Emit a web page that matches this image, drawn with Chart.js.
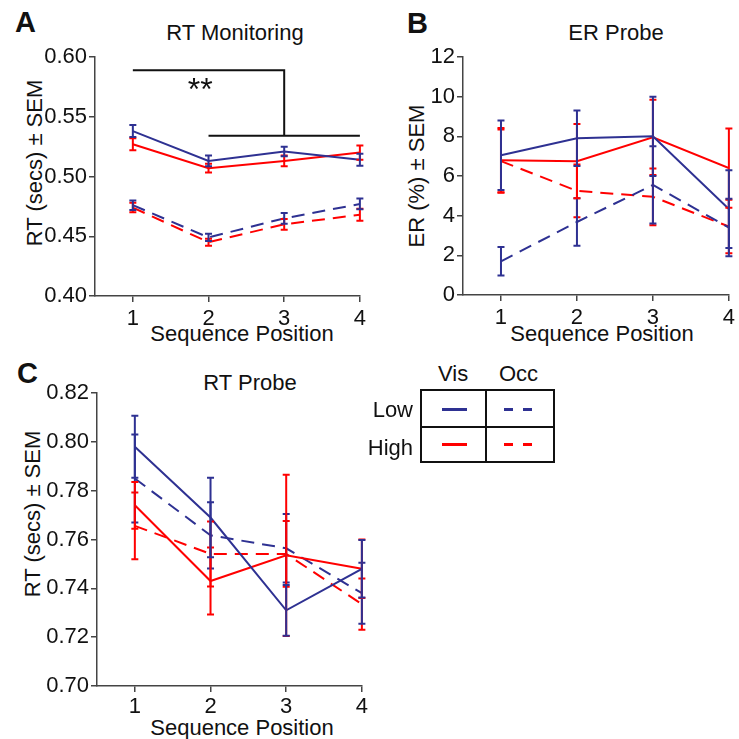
<!DOCTYPE html>
<html lang="en">
<head>
<meta charset="UTF-8">
<title>RT Monitoring, ER Probe, RT Probe</title>
<script src="https://cdn.jsdelivr.net/npm/chart.js"></script>
<style>
  body { margin: 0; width: 739px; height: 739px; position: relative; overflow: hidden;
         background: #fff; color: #111; font-family: Arial, "Liberation Sans", sans-serif; }
  canvas { position: absolute; }
  .txt { position: absolute; font-size: 22px; line-height: 22px; white-space: nowrap; }
  .ctr { width: 400px; text-align: center; }
  .letter { position: absolute; font-size: 29px; line-height: 29px; font-weight: bold; }
  .ylab { position: absolute; width: 300px; height: 26px; line-height: 26px; font-size: 22px;
          text-align: center; white-space: nowrap; transform: rotate(-90deg); }
  .box { position: absolute; background: #111; }
  .blue { position: absolute; background: #2e3192; height: 3px; }
  .red { position: absolute; background: #ff0000; height: 3px; }
</style>
</head>
<body>
  <!-- panel letters and titles -->
  <div class="letter" style="left:15px; top:8px;">A</div>
  <div class="letter" style="left:407px; top:9px;">B</div>
  <div class="letter" style="left:17px; top:359px;">C</div>

  <div class="txt ctr" style="left:35px; top:22px;">RT Monitoring</div>
  <div class="txt ctr" style="left:416px; top:22px;">ER Probe</div>
  <div class="txt ctr" style="left:50px; top:372px;">RT Probe</div>

  <div class="txt ctr" style="left:42px; top:323px;">Sequence Position</div>
  <div class="txt ctr" style="left:402px; top:323px;">Sequence Position</div>
  <div class="txt ctr" style="left:42px; top:717px;">Sequence Position</div>

  <div class="ylab" style="left:-115px; top:150px;">RT (secs) ± SEM</div>
  <div class="ylab" style="left:267px; top:163px;">ER (%) ± SEM</div>
  <div class="ylab" style="left:-117px; top:501px;">RT (secs) ± SEM</div>

  <canvas id="chartA" width="370" height="350" style="left:0; top:0;"></canvas>
  <canvas id="chartB" width="369" height="350" style="left:370px; top:0;"></canvas>
  <canvas id="chartC" width="370" height="399" style="left:0; top:340px;"></canvas>

  <!-- legend table -->
  <div class="txt" style="left:438px; top:363px;">Vis</div>
  <div class="txt" style="left:499px; top:363px;">Occ</div>
  <div class="txt" style="left:313px; top:399px; width:100px; text-align:right;">Low</div>
  <div class="txt" style="left:313px; top:437px; width:100px; text-align:right;">High</div>
  <div style="position:absolute; left:420px; top:389px; width:135px; height:74px; border:2px solid #111; box-sizing:border-box;"></div>
  <div class="box" style="left:485px; top:389px; width:2px; height:74px;"></div>
  <div class="box" style="left:420px; top:426px; width:135px; height:2px;"></div>
  <div class="blue" style="left:442px; top:408px; width:25px;"></div>
  <div class="blue" style="left:504px; top:408px; width:9px;"></div>
  <div class="blue" style="left:523px; top:408px; width:9px;"></div>
  <div class="red" style="left:442px; top:443px; width:25px;"></div>
  <div class="red" style="left:504px; top:443px; width:9px;"></div>
  <div class="red" style="left:523px; top:443px; width:9px;"></div>

<script>
// sequence positions (x axis)
const positions = [1, 2, 3, 4];

// A: RT Monitoring (secs)
const monVisLow = [0.538, 0.513, 0.521, 0.514];
const monVisLowErr = [0.005, 0.0045, 0.004, 0.005];
const monVisHigh = [0.527, 0.507, 0.513, 0.520];
const monVisHighErr = [0.005, 0.0036, 0.0045, 0.006];
const monOccLow = [0.476, 0.449, 0.465, 0.477];
const monOccLowErr = [0.004, 0.003, 0.0045, 0.0045];
const monOccHigh = [0.474, 0.445, 0.460, 0.468];
const monOccHighErr = [0.004, 0.003, 0.0045, 0.005];
const monTicks = [0.40, 0.45, 0.50, 0.55, 0.60];

// significance bracket in A
const bracketUpperX = [1, 3, 3];
const bracketUpperY = [0.589, 0.589, 0.534];
const bracketLowerX = [2, 4];
const bracketLowerY = [0.534, 0.534];
const starLabel = '**';
const starX = 1.89;
const starY = 0.564;

// B: ER Probe (%)
const erVisLow = [7.05, 7.9, 8.0, 4.33];
const erVisLowErr = [1.75, 1.4, 2.0, 1.96];
const erVisHigh = [6.8, 6.75, 7.95, 6.4];
const erVisHighErr = [1.62, 1.87, 1.9, 2.0];
const erOccLow = [1.7, 3.68, 5.55, 3.4];
const erOccLowErr = [0.72, 1.2, 1.95, 1.45];
const erOccHigh = [6.75, 5.25, 4.95, 3.45];
const erOccHighErr = [1.6, 1.33, 1.43, 1.35];
const erTicks = [0, 2, 4, 6, 8, 10, 12];

// C: RT Probe (secs)
const rtVisLow = [0.798, 0.769, 0.731, 0.748];
const rtVisLowErr = [0.0127, 0.0163, 0.0104, 0.0118];
const rtVisHigh = [0.774, 0.743, 0.7535, 0.748];
const rtVisHighErr = [0.0096, 0.0137, 0.033, 0.012];
const rtOccLow = [0.785, 0.7617, 0.7564, 0.738];
const rtOccLowErr = [0.018, 0.0136, 0.014, 0.0125];
const rtOccHigh = [0.7656, 0.7541, 0.7541, 0.7335];
const rtOccHighErr = [0.0137, 0.0133, 0.0135, 0.0105];
const rtTicks = [0.70, 0.72, 0.74, 0.76, 0.78, 0.80, 0.82];

const BLUE = '#2e3192';
const RED = '#ff0000';
const AXIS = '#444';
const FONT = { family: 'Arial, "Liberation Sans", sans-serif', size: 22 };

function series(vals, errs, color, dashed) {
  return {
    data: positions.map((p, i) => ({ x: p, y: vals[i] })),
    errors: errs,
    borderColor: color,
    borderWidth: 2,
    borderDash: dashed ? [13, 8] : [],
    pointRadius: 0,
    fill: false,
    tension: 0
  };
}

function bracket(xs, ys) {
  return {
    data: xs.map((x, i) => ({ x: x, y: ys[i] })),
    borderColor: '#111',
    borderWidth: 2,
    pointRadius: 0,
    fill: false
  };
}

// vertical error bars with small caps, drawn through the chart scales
const errorBars = {
  id: 'errorBars',
  afterDatasetsDraw(chart) {
    const { ctx, scales: { x, y } } = chart;
    const sets = chart.data.datasets;
    ctx.save();
    ctx.lineWidth = 2;
    ctx.setLineDash([]);
    for (let i = sets.length - 1; i >= 0; i--) {
      const ds = sets[i];
      if (!ds.errors) continue;
      ctx.strokeStyle = ds.borderColor;
      ds.data.forEach((p, j) => {
        const px = x.getPixelForValue(p.x);
        const top = y.getPixelForValue(p.y + ds.errors[j]);
        const bot = y.getPixelForValue(p.y - ds.errors[j]);
        ctx.beginPath();
        ctx.moveTo(px, top); ctx.lineTo(px, bot);
        ctx.moveTo(px - 3.5, top); ctx.lineTo(px + 3.5, top);
        ctx.moveTo(px - 3.5, bot); ctx.lineTo(px + 3.5, bot);
        ctx.stroke();
      });
    }
    ctx.restore();
  }
};

// the ** over the bracket
const starText = {
  id: 'starText',
  afterDatasetsDraw(chart, args, opts) {
    if (!opts.text) return;
    const { ctx, scales: { x, y } } = chart;
    ctx.save();
    ctx.fillStyle = '#111';
    ctx.font = '32px Arial, "Liberation Sans", sans-serif';
    ctx.textAlign = 'center';
    ctx.textBaseline = 'alphabetic';
    ctx.fillText(opts.text, x.getPixelForValue(opts.x), y.getPixelForValue(opts.y));
    ctx.restore();
  }
};

function panel(id, cfg) {
  return new Chart(document.getElementById(id), {
    type: 'line',
    data: { datasets: cfg.datasets },
    options: {
      responsive: false,
      animation: false,
      devicePixelRatio: 1,
      layout: { padding: cfg.pad },
      plugins: {
        legend: { display: false },
        tooltip: { enabled: false },
        starText: cfg.star || {}
      },
      scales: {
        x: {
          type: 'linear', min: 0.5, max: 4,
          afterBuildTicks: s => { s.ticks = positions.map(v => ({ value: v })); },
          afterFit: s => { s.height = cfg.xh; },
          ticks: { font: FONT, color: '#111', padding: cfg.xpad, maxRotation: 0, autoSkip: false,
                   callback: v => String(v) },
          grid: { drawOnChartArea: false, tickLength: 6, color: AXIS, lineWidth: 1.5 },
          border: { color: AXIS, width: 1.5 }
        },
        y: {
          type: 'linear', min: cfg.yTicks[0], max: cfg.yTicks[cfg.yTicks.length - 1],
          afterBuildTicks: s => { s.ticks = cfg.yTicks.map(v => ({ value: v })); },
          afterFit: s => { s.width = cfg.yw; },
          ticks: { font: FONT, color: '#111', padding: 2, autoSkip: false,
                   callback: v => v.toFixed(cfg.dec) },
          grid: { drawOnChartArea: false, tickLength: 6, color: AXIS, lineWidth: 1.5 },
          border: { color: AXIS, width: 1.5 }
        }
      }
    },
    plugins: [errorBars, starText]
  });
}

panel('chartA', {
  datasets: [
    series(monVisLow, monVisLowErr, BLUE, false),
    series(monVisHigh, monVisHighErr, RED, false),
    series(monOccLow, monOccLowErr, BLUE, true),
    series(monOccHigh, monOccHighErr, RED, true),
    bracket(bracketUpperX, bracketUpperY),
    bracket(bracketLowerX, bracketLowerY)
  ],
  yTicks: monTicks, dec: 2,
  pad: { left: 0, top: 57, right: 9, bottom: 0 },
  yw: 95, xh: 54, xpad: 4,
  star: { text: starLabel, x: starX, y: starY }
});

panel('chartB', {
  datasets: [
    series(erVisLow, erVisLowErr, BLUE, false),
    series(erVisHigh, erVisHighErr, RED, false),
    series(erOccLow, erOccLowErr, BLUE, true),
    series(erOccHigh, erOccHighErr, RED, true)
  ],
  yTicks: erTicks, dec: 0,
  pad: { left: 0, top: 57, right: 9, bottom: 0 },
  yw: 93, xh: 55, xpad: 4
});

panel('chartC', {
  datasets: [
    series(rtVisLow, rtVisLowErr, BLUE, false),
    series(rtVisHigh, rtVisHighErr, RED, false),
    series(rtOccLow, rtOccLowErr, BLUE, true),
    series(rtOccHigh, rtOccHighErr, RED, true)
  ],
  yTicks: rtTicks, dec: 2,
  pad: { left: 0, top: 53, right: 6, bottom: 0 },
  yw: 97, xh: 53, xpad: 2
});
</script>
</body>
</html>
